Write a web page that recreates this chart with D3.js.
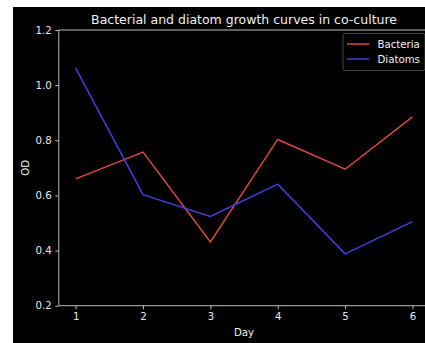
<!DOCTYPE html>
<html><head><meta charset="utf-8">
<script src="https://cdn.jsdelivr.net/npm/d3@7"></script>
<style>html,body{margin:0;padding:0;background:#fff;}svg{display:block;}</style>
</head><body>
<script>
const days = [1, 2, 3, 4, 5, 6];
const bacteria = [0.66, 0.757, 0.431, 0.803, 0.695, 0.885];
const diatoms = [1.062, 0.603, 0.524, 0.641, 0.388, 0.505];
const yTicks = [0.2, 0.4, 0.6, 0.8, 1.0, 1.2];
const xTicks = [1, 2, 3, 4, 5, 6];
const seriesNames = ["Bacteria", "Diatoms"];
const seriesColors = ["#e04646", "#4040e0"];

const W = 425, H = 343;
const svg = d3.select("body").append("svg").attr("width", W).attr("height", H);
svg.append("rect").attr("x", 13).attr("y", 7).attr("width", W - 13).attr("height", H - 7).attr("fill", "#000");

const L = 58.8, R = 429.3, T = 30, B = 305.7;
const x = d3.scaleLinear().domain([0.75, 6.25]).range([L, R]);
const y = d3.scaleLinear().domain([0.2, 1.2]).range([B, T]);
const font = "DejaVu Sans, sans-serif";
const axisColor = "#bdbdbd";

// axes
const gx = svg.append("g").attr("transform", `translate(0,${B})`)
  .call(d3.axisBottom(x).tickValues(xTicks).tickFormat(d3.format("d")).tickSizeOuter(0).tickSize(3.5).tickPadding(3.5));
const gy = svg.append("g").attr("transform", `translate(${L},0)`)
  .call(d3.axisLeft(y).tickValues(yTicks).tickFormat(d3.format(".1f")).tickSizeOuter(0).tickSize(3.5).tickPadding(3.5));
[gx, gy].forEach(g => {
  g.select(".domain").remove();
  g.selectAll("line").attr("stroke", axisColor);
  g.selectAll("text").attr("fill", "#e8e8e8").attr("font-family", font).attr("font-size", 10.2);
});
// spines
svg.append("line").attr("x1", L).attr("x2", L).attr("y1", T).attr("y2", B).attr("stroke", axisColor);
svg.append("line").attr("x1", L).attr("x2", R).attr("y1", B).attr("y2", B).attr("stroke", axisColor);
svg.append("line").attr("x1", L).attr("x2", R).attr("y1", T).attr("y2", T).attr("stroke", axisColor);
svg.append("line").attr("x1", R).attr("x2", R).attr("y1", T).attr("y2", B).attr("stroke", axisColor);

// lines
const line = d3.line().x((d, i) => x(days[i])).y(d => y(d));
[bacteria, diatoms].forEach((s, k) => {
  svg.append("path").datum(s).attr("d", line).attr("fill", "none")
    .attr("stroke", seriesColors[k]).attr("stroke-width", 1.5);
});

// title and labels
svg.append("text").attr("x", (L + R) / 2).attr("y", 23.5).attr("text-anchor", "middle")
  .attr("fill", "#f0f0f0").attr("font-family", font).attr("font-size", 12.5)
  .text("Bacterial and diatom growth curves in co-culture");
svg.append("text").attr("x", (L + R) / 2).attr("y", 336).attr("text-anchor", "middle")
  .attr("fill", "#f0f0f0").attr("font-family", font).attr("font-size", 10.2).text("Day");
svg.append("text").attr("transform", `translate(28.5,${(T + B) / 2}) rotate(-90)`).attr("text-anchor", "middle")
  .attr("fill", "#f0f0f0").attr("font-family", font).attr("font-size", 10.2).text("OD");

// legend
const lg = svg.append("g");
lg.append("rect").attr("x", 343).attr("y", 33.5).attr("width", 82).attr("height", 37).attr("rx", 2)
  .attr("fill", "#000").attr("stroke", "#444");
seriesNames.forEach((n, k) => {
  const yy = 44 + k * 15;
  lg.append("line").attr("x1", 347).attr("x2", 369).attr("y1", yy).attr("y2", yy)
    .attr("stroke", seriesColors[k]).attr("stroke-width", 1.5);
  lg.append("text").attr("x", 377.5).attr("y", yy + 3.6).attr("fill", "#f0f0f0")
    .attr("font-family", font).attr("font-size", 10.2).text(n);
});
</script>
</body></html>
